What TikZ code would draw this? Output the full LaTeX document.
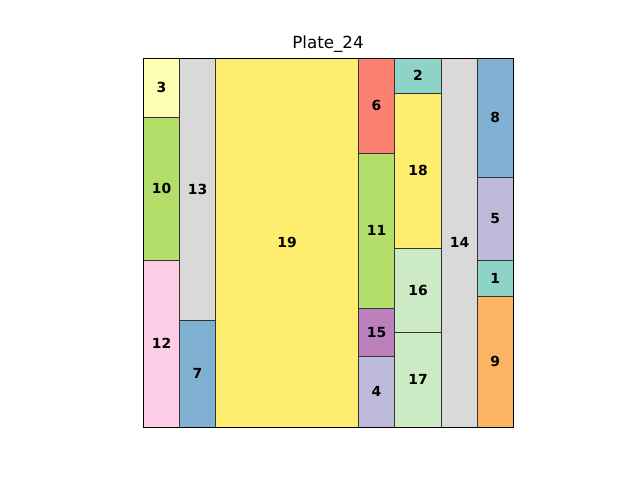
\documentclass[tikz,border=0pt]{standalone}
\usepackage{fontspec}
\setmainfont{DejaVu Sans}
\usepackage{xcolor}
\usepackage{tikz}

\definecolor{setteal}{HTML}{8DD3C7}
\definecolor{setcream}{HTML}{FFFFB3}
\definecolor{setlilac}{HTML}{BEBADA}
\definecolor{setsalmon}{HTML}{FB8072}
\definecolor{setblue}{HTML}{80B1D3}
\definecolor{setorange}{HTML}{FDB462}
\definecolor{setlime}{HTML}{B3DE69}
\definecolor{setpink}{HTML}{FCCDE5}
\definecolor{setgray}{HTML}{D9D9D9}
\definecolor{setpurple}{HTML}{BC80BD}
\definecolor{setmint}{HTML}{CCEBC5}
\definecolor{setyellow}{HTML}{FFED6F}

\begin{document}
\begin{tikzpicture}[
  x=1pt, y=-1pt,
  piece/.style={rectangle, draw=black!80, line width=1pt, inner sep=0pt, outer sep=0pt,
    font=\fontsize{13.9}{16}\selectfont\bfseries},
  frame/.style={draw=black, line width=1pt}
]
  \useasboundingbox (0,0) rectangle (640,480);
  \node [font=\fontsize{16.7}{20}\selectfont] (title) at (328,44) {Plate\_24};

  % cut pieces: label / left / top / right / bottom / colour
  \foreach \n/\xa/\ya/\xb/\yb/\c in {
      3/143.5/58.5/179.5/117.3/setcream,
      10/143.5/117.3/179.5/260.3/setlime,
      12/143.5/260.3/179.5/427/setpink,
      13/179.5/58.5/215.5/320.3/setgray,
      7/179.5/320.3/215.5/427/setblue,
      19/215.5/58.5/358.5/427/setyellow,
      6/358.5/58.5/394.5/153/setsalmon,
      11/358.5/153/394.5/308.3/setlime,
      15/358.5/308.3/394.5/356.7/setpurple,
      4/358.5/356.7/394.5/427/setlilac,
      2/394.5/58.5/441.5/93/setteal,
      18/394.5/93/441.5/248.3/setyellow,
      16/394.5/248.3/441.5/332/setmint,
      17/394.5/332/441.5/427/setmint,
      14/441.5/58.5/477.5/427/setgray,
      8/477.5/58.5/513/177/setblue,
      5/477.5/177/513/260.7/setlilac,
      1/477.5/260.7/513/296.3/setteal,
      9/477.5/296.3/513/427/setorange}
    \node [piece, fill=\c, minimum width={(\xb-\xa)*1pt}, minimum height={(\yb-\ya)*1pt}]
      (p\n) at ({(\xa+\xb)/2},{(\ya+\yb)/2}) {\n};

  \draw [frame] (p3.north west) rectangle (p9.south east);
\end{tikzpicture}
\end{document}
